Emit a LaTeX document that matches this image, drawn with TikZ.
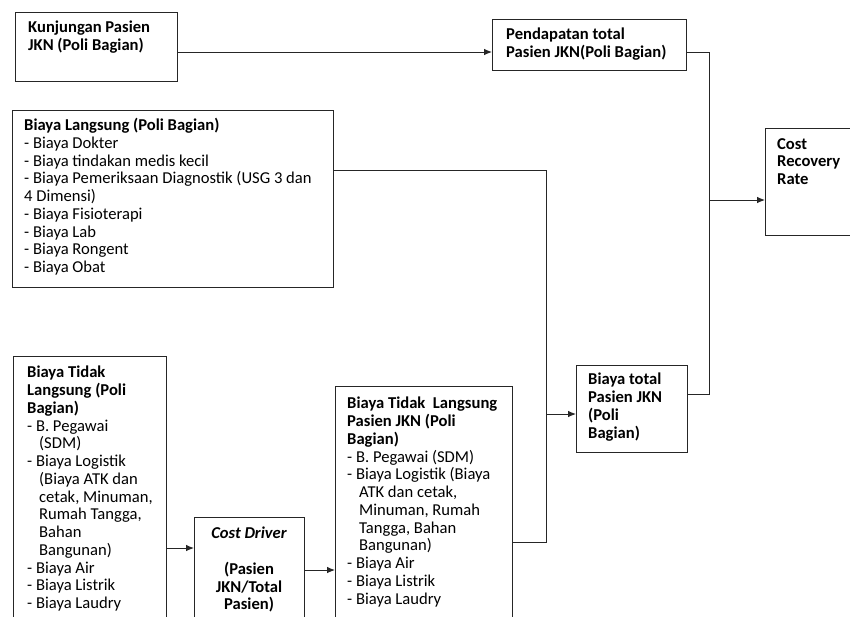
\documentclass[tikz,border=0pt]{standalone}
\usepackage{fontspec}
\setmainfont{Carlito}
\usetikzlibrary{arrows.meta,calc}
\begin{document}
\begin{tikzpicture}[x=1pt,y=-1pt,
  box/.style={draw=black!85, line width=0.9pt, inner sep=0pt, anchor=north west},
  txt/.style={anchor=north west, align=left, inner sep=0pt, font=\fontsize{16.6}{17.75}\selectfont},
  ctxt/.style={anchor=north, align=center, inner sep=0pt, font=\fontsize{16.6}{17.75}\selectfont},
  conn/.style={draw=black!85, line width=0.9pt},
  arr/.style={conn,-{Latex[length=8pt,width=6.5pt]}}]
\useasboundingbox (0,0) rectangle (850,616);
\clip (0,0) rectangle (850,616);
\fill[white] (0,0) rectangle (850,616);

% boxes
\node[box, minimum width=162, minimum height=69] (kunj) at (15,12) {};
\node[box, minimum width=194, minimum height=51] (pend) at (492,19) {};
\node[box, minimum width=321, minimum height=177] (lang) at (12,110) {};
\node[box, minimum width=110, minimum height=107] (crr) at (765,128) {};
\node[box, minimum width=111, minimum height=87] (total) at (576,365) {};
\node[box, minimum width=153, minimum height=290] (tlp) at (13,356) {};
\node[box, minimum width=110, minimum height=130] (cd) at (194,517) {};
\node[box, minimum width=177, minimum height=260] (tlj) at (335,386) {};

% texts
\node[txt] (kunjt) at (28,21) {\bfseries Kunjungan Pasien\\\bfseries JKN (Poli Bagian)};
\node[txt] (pendt) at (506,28) {\bfseries Pendapatan total\\\bfseries Pasien JKN(Poli Bagian)};
\node[txt] (langt) at (24,118) {\bfseries Biaya Langsung (Poli Bagian)\\
- Biaya Dokter\\
- Biaya tindakan medis kecil\\
- Biaya Pemeriksaan Diagnostik (USG 3 dan\\
4 Dimensi)\\
- Biaya Fisioterapi\\
- Biaya Lab\\
- Biaya Rongent\\
- Biaya Obat};
\node[txt] (crrt) at (777,138) {\bfseries Cost\\\bfseries Recovery\\\bfseries Rate};
\node[txt] (totalt) at (588,373) {\bfseries Biaya total\\\bfseries Pasien JKN\\\bfseries (Poli\\\bfseries Bagian)};
\node[txt] (tlpt) at (27,366) {\bfseries Biaya Tidak\\\bfseries Langsung (Poli\\\bfseries Bagian)\\
- B. Pegawai\\
\hspace*{12pt}(SDM)\\
- Biaya Logistik\\
\hspace*{12pt}(Biaya ATK dan\\
\hspace*{12pt}cetak, Minuman,\\
\hspace*{12pt}Rumah Tangga,\\
\hspace*{12pt}Bahan\\
\hspace*{12pt}Bangunan)\\
- Biaya Air\\
- Biaya Listrik\\
- Biaya Laudry};
\node[ctxt] (cdt) at (249,527) {\bfseries\itshape Cost Driver\\[17.75pt]\bfseries (Pasien\\\bfseries JKN/Total\\\bfseries Pasien)};
\node[txt] (tljt) at (347,397) {\bfseries Biaya Tidak\ \ Langsung\\\bfseries Pasien JKN (Poli\\\bfseries Bagian)\\
- B. Pegawai (SDM)\\
- Biaya Logistik (Biaya\\
\hspace*{12pt}ATK dan cetak,\\
\hspace*{12pt}Minuman, Rumah\\
\hspace*{12pt}Tangga, Bahan\\
\hspace*{12pt}Bangunan)\\
- Biaya Air\\
- Biaya Listrik\\
- Biaya Laudry};

% helper coordinates
\coordinate (y52) at (0,52);
\coordinate (y170) at (0,170);
\coordinate (y394) at (0,394);
\coordinate (y542) at (0,542);
\coordinate (y548) at (0,548);
\coordinate (y570) at (0,570);
\coordinate (m1) at (709,200);
\coordinate (m2) at (546,414);

% connectors
\draw[arr] (kunj.east |- y52) -- (pend.west |- y52);
\draw[conn] (pend.east |- y52) -| (m1);
\draw[conn] (total.east |- y394) -| (m1);
\draw[arr] (m1) -- (crr.west |- m1);
\draw[conn] (lang.east |- y170) -| (m2);
\draw[conn] (tlj.east |- y542) -| (m2);
\draw[arr] (m2) -- (total.west |- m2);
\draw[arr] (tlp.east |- y548) -- (cd.west |- y548);
\draw[arr] (cd.east |- y570) -- (tlj.west |- y570);
\end{tikzpicture}
\end{document}
